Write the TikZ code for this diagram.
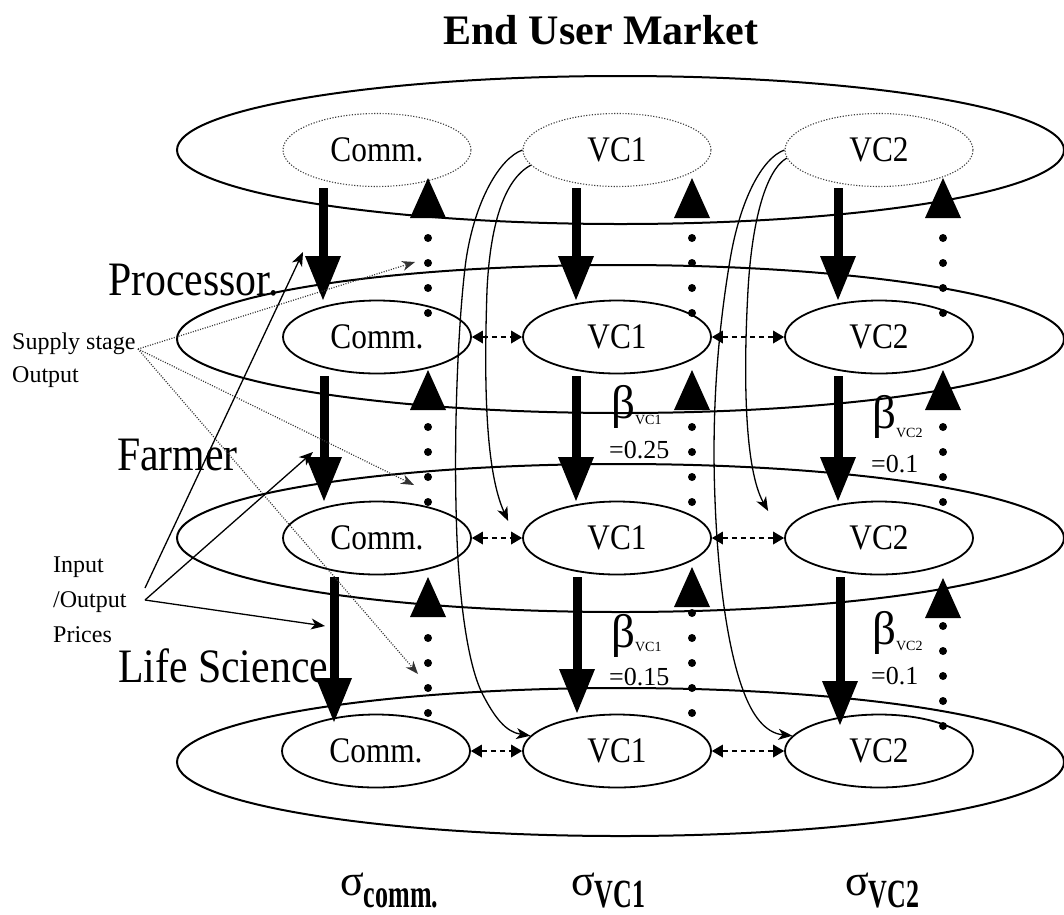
\documentclass[tikz,border=0pt]{standalone}
\usepackage{fontspec}
\usepackage{graphicx}
\setmainfont{Liberation Serif}
\newfontfamily\narrowserif{Liberation Serif}[FakeStretch=0.87]
\newfontfamily\squeezedserif{Liberation Serif}[FakeStretch=0.65]
\usetikzlibrary{arrows.meta,calc,shapes.geometric}

\begin{document}
\begin{tikzpicture}[x=1pt,y=-1pt,
  stage/.style={ellipse,draw,line width=2pt,minimum width=887pt,minimum height=148pt,inner sep=0pt},
  firm/.style={ellipse,draw,line width=1.8pt,minimum width=188pt,minimum height=73pt,inner sep=0pt,
    font=\narrowserif\fontsize{36}{36}\selectfont},
  market/.style={firm,draw=black!75,line width=1.1pt,dash pattern=on 1.2pt off 1.6pt},
  flowdown/.style={line width=9pt,-{Triangle[width=36pt,length=44pt,line width=0pt]}},
  flowup/.style={line width=8pt,line cap=round,dash pattern=on 0pt off 25pt,
    -{Triangle[width=36pt,length=40pt,line width=0pt]}},
  swap/.style={line width=2pt,dash pattern=on 5pt off 4pt,
    {Triangle[length=11pt,width=13pt,line width=0pt]}-{Triangle[length=11pt,width=13pt,line width=0pt]}},
  spill/.style={line width=1.3pt,-{Stealth[length=14pt,width=11pt,inset=4pt]}},
  supplyline/.style={draw=black!80,line width=1.2pt,dash pattern=on 1pt off 1.5pt,
    -{Stealth[length=13pt,width=10pt,inset=4pt,line width=0pt]}},
  priceline/.style={line width=1.3pt,-{Stealth[length=14pt,width=11pt,inset=4pt]}},
  tag/.style={anchor=base west,inner sep=0pt},
]
\useasboundingbox (0,0) rectangle (1064,914);

% supply stages
\node[stage] (eum)  at (620.5,150) {};
\node[stage] (proc) at (620.5,339) {};
\node[stage] (farm) at (620.5,538) {};
\node[stage] (life) at (620.5,762) {};

% market segments and firms in each stage
\node[market] (t1) at (377,150) {Comm.};
\node[market] (t2) at (617,150) {VC1};
\node[market] (t3) at (879,150) {VC2};
\node[firm] (p1) at (377,337) {Comm.};
\node[firm] (p2) at (617,337) {VC1};
\node[firm] (p3) at (879,337) {VC2};
\node[firm] (f1) at (377,538) {Comm.};
\node[firm] (f2) at (617,538) {VC1};
\node[firm] (f3) at (879,538) {VC2};
\node[firm] (l1) at (376,751) {Comm.};
\node[firm] (l2) at (617,751) {VC1};
\node[firm] (l3) at (879,751) {VC2};

% title and stage names
\node[anchor=base,inner sep=0pt,font=\bfseries\fontsize{42}{42}\selectfont] (title) at (601,44) {End User Market};
\node[tag,font=\narrowserif\fontsize{48}{48}\selectfont] (lproc) at (108,295) {Processor.};
\node[tag,font=\narrowserif\fontsize{48}{48}\selectfont] (lfarm) at (117,470) {Farmer};
\node[tag,font=\narrowserif\fontsize{48}{48}\selectfont] (llife) at (118,682) {Life Science};
\node[anchor=north west,inner sep=0pt,align=left,font=\fontsize{24}{33}\selectfont] (lsupply) at (12,333) {Supply stage\\Output};
\node[anchor=north west,inner sep=0pt,align=left,font=\fontsize{24}{35}\selectfont] (lprices) at (53,557) {Input\\/Output\\Prices};

% product flows downwards
\draw[flowdown] ($(t1)+(-54,38)$) -- ($(p1)+(-54,-37)$);
\draw[flowdown] ($(t2)+(-41,38)$) -- ($(p2)+(-41,-37)$);
\draw[flowdown] ($(t3)+(-41,38)$) -- ($(p3)+(-41,-37)$);
\draw[flowdown] ($(p1)+(-53,39)$) -- ($(f1)+(-53,-37)$);
\draw[flowdown] ($(p2)+(-41,39)$) -- ($(f2)+(-41,-37)$);
\draw[flowdown] ($(p3)+(-41,39)$) -- ($(f3)+(-41,-37)$);
\draw[flowdown] ($(f1)+(-43,39)$) -- ($(l1)+(-42,-29)$);
\draw[flowdown] ($(f2)+(-40,39)$) -- ($(l2)+(-40,-38)$);
\draw[flowdown] ($(f3)+(-39,39)$) -- ($(l3)+(-39,-26)$);

% demand signals upwards
\draw[flowup] ($(p1)+(51,-24)$) -- ($(t1)+(51,28)$);
\draw[flowup] ($(p2)+(75,-24)$) -- ($(t2)+(75,28)$);
\draw[flowup] ($(p3)+(64,-24)$) -- ($(t3)+(64,28)$);
\draw[flowup] ($(f1)+(51,-36)$) -- ($(p1)+(51,33)$);
\draw[flowup] ($(f2)+(75,-36)$) -- ($(p2)+(75,33)$);
\draw[flowup] ($(f3)+(64,-36)$) -- ($(p3)+(64,33)$);
\draw[flowup] ($(l1)+(52,-38)$) -- ($(f1)+(51,39)$);
\draw[flowup] ($(l2)+(75,-38)$) -- ($(f2)+(75,29)$);
\draw[flowup] ($(l3)+(64,-25)$) -- ($(f3)+(64,40)$);

% substitution between segments
\draw[swap] (p1.east) -- (p2.west);
\draw[swap] (p2.east) -- (p3.west);
\draw[swap] (f1.east) -- (f2.west);
\draw[swap] (f2.east) -- (f3.west);
\draw[swap] (l1.east) -- (l2.west);
\draw[swap] (l2.east) -- (l3.west);

% spillovers from the end-user segments down the chain
\draw[spill] (t2.west) .. controls (500,158) and (475,200) .. (466,260)
  .. controls (458,320) and (452,450) .. (458,560)
  .. controls (462,620) and (470,670) .. (483,695)
  .. controls (495,718) and (506,732) .. (l2.170);
\draw[spill] (t2.190) .. controls (503,180) and (490,228) .. (487,290)
  .. controls (484,380) and (485,470) .. ($(f2.west)+(-14,-17)$);
\draw[spill] (t3.west) .. controls (762,158) and (740,200) .. (730,260)
  .. controls (720,320) and (711,400) .. (715,500)
  .. controls (718,580) and (728,650) .. (743,690)
  .. controls (752,715) and (765,733) .. (l3.170);
\draw[spill] (t3.185) .. controls (766,170) and (752,220) .. (748,290)
  .. controls (743,380) and (745,470) .. ($(f3.west)+(-16,-27)$);

% annotation pointers
\coordinate (supplyout) at (138,349);
\coordinate (supP) at ($(p1)+(38,-75)$);
\coordinate (supF) at ($(f1)+(37,-53)$);
\coordinate (supL) at ($(l1)+(42,-77)$);
\draw[supplyline] (supplyout) -- (supP);
\draw[supplyline] (supplyout) -- (supF);
\draw[supplyline] (supplyout) -- (supL);

\coordinate (priceA) at (145,588);
\coordinate (priceB) at (145,600);
\coordinate (priceP) at ($(p1)+(-74,-85)$);
\coordinate (priceF) at ($(f1)+(-64,-86)$);
\coordinate (priceL) at ($(l1)+(-51,-125)$);
\draw[priceline] (priceA) -- (priceP);
\draw[priceline] (priceB) -- (priceF);
\draw[priceline] (priceB) -- (priceL);

% elasticities
\node[tag,font=\fontsize{47}{47}\selectfont] (b1) at (611,418) {β\raisebox{-6pt}{\fontsize{14}{14}\selectfont VC1}};
\node[tag,font=\fontsize{26}{26}\selectfont] (b1v) at (609,458) {=0.25};
\node[tag,font=\fontsize{47}{47}\selectfont] (b2) at (872,428) {β\raisebox{-9pt}{\fontsize{14}{14}\selectfont VC2}};
\node[tag,font=\fontsize{26}{26}\selectfont] (b2v) at (871,472) {=0.1};
\node[tag,font=\fontsize{47}{47}\selectfont] (b3) at (611,647) {β\raisebox{-4pt}{\fontsize{14}{14}\selectfont VC1}};
\node[tag,font=\fontsize{26}{26}\selectfont] (b3v) at (609,685) {=0.15};
\node[tag,font=\fontsize{47}{47}\selectfont] (b4) at (872,644) {β\raisebox{-6pt}{\fontsize{14}{14}\selectfont VC2}};
\node[tag,font=\fontsize{26}{26}\selectfont] (b4v) at (871,684) {=0.1};

% segment variances
\node[tag,font=\fontsize{44}{44}\selectfont] (s1) at (340,895) {σ\raisebox{-12pt}{\squeezedserif\bfseries\fontsize{40}{40}\selectfont comm.}};
\node[tag,font=\fontsize{44}{44}\selectfont] (s2) at (571,895) {σ\raisebox{-12pt}{\squeezedserif\bfseries\fontsize{40}{40}\selectfont VC1}};
\node[tag,font=\fontsize{44}{44}\selectfont] (s3) at (845,895) {σ\raisebox{-12pt}{\squeezedserif\bfseries\fontsize{40}{40}\selectfont VC2}};
\end{tikzpicture}
\end{document}
